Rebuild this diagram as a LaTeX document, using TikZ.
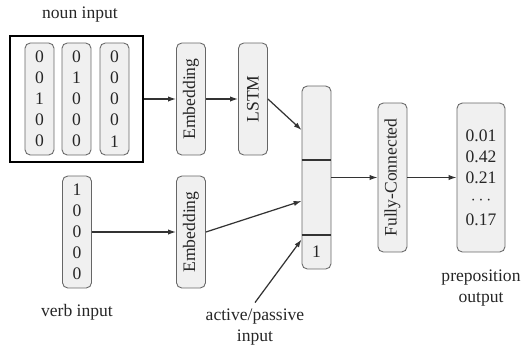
\documentclass[tikz,border=0pt]{standalone}
\usepackage{fontspec}
\setmainfont{Liberation Serif}
\usetikzlibrary{positioning}
\usetikzlibrary{arrows.meta}

\begin{document}
\begin{tikzpicture}[x=0.02cm, y=-0.02cm,
        layer/.style={draw=gray!80!black, fill=gray!12, rounded corners=3pt, inner sep=0pt, line width=0.5pt, text=black!85},
        vec/.style={layer, minimum width=0.58cm, minimum height=2.24cm, align=center},
        bar/.style={layer, rotate=90, minimum width=2.24cm, minimum height=0.58cm},
        conn/.style={-{Latex[length=4.5pt,width=3pt]}, black!80, line width=0.7pt},
        lbl/.style={align=center, text=black!85}]
            \useasboundingbox (0,0) rectangle (524,345);

            % Noun input: frame with three one-hot vectors
            \node[draw, line width=0.9pt, minimum width=2.66cm, minimum height=2.52cm] (noun) at (76.5,99) {};
            \node[vec] (nounA) at (39.5,99) {0\\0\\1\\0\\0};
            \node[vec] (nounB) at (76.5,99) {0\\1\\0\\0\\0};
            \node[vec] (nounC) at (114.5,99) {0\\0\\0\\0\\1};
            \node[lbl] (nounlbl) at (80,15) {noun input};

            % Verb input
            \node[vec] (verb) at (77,232) {1\\0\\0\\0\\0};
            \node[lbl] (verblbl) at (77,312) {verb input};

            % Embeddings and LSTM
            \node[bar] (emb1) at (191,99) {Embedding};
            \node[bar] (lstm) at (253,99) {LSTM};
            \node[bar] (emb2) at (191,232) {Embedding};

            % Concatenated vector
            \node[layer, minimum width=0.58cm, minimum height=3.66cm] (concat) at (316.5,177.5) {};
            \coordinate (div1) at (316.5,160);
            \coordinate (div2) at (316.5,235);
            \draw[black!80, line width=0.8pt] (concat.west |- div1) -- (concat.east |- div1);
            \draw[black!80, line width=0.8pt] (concat.west |- div2) -- (concat.east |- div2);
            \node[text=black!85] (flag) at (316.5,252) {1};
            \node[lbl] (active) at (255,327) {active/passive\\input};

            % Fully connected and output
            \node[layer, rotate=90, minimum width=2.98cm, minimum height=0.58cm] (fc) at (392.5,177.5) {Fully-Connected};
            \node[layer, minimum width=0.96cm, minimum height=2.98cm, align=center] (out) at (481,177.5) {0.01\\0.42\\0.21\\$\cdots$\\0.17};
            \node[lbl] (outlbl) at (481,288) {preposition\\output};

            % Connectors
            \draw[conn] (noun) -- (emb1);
            \draw[conn] (emb1) -- (lstm);
            \draw[conn] (lstm.south) -- ([yshift=0.95cm]concat.west);
            \draw[conn] (verb) -- (emb2);
            \draw[conn] (emb2.south) -- ([yshift=-0.47cm]concat.west);
            \draw[conn] (active.north) -- ([yshift=-1.24cm]concat.west);
            \draw[conn] (concat) -- (fc);
            \draw[conn] (fc) -- (out);

        \end{tikzpicture}
\end{document}
